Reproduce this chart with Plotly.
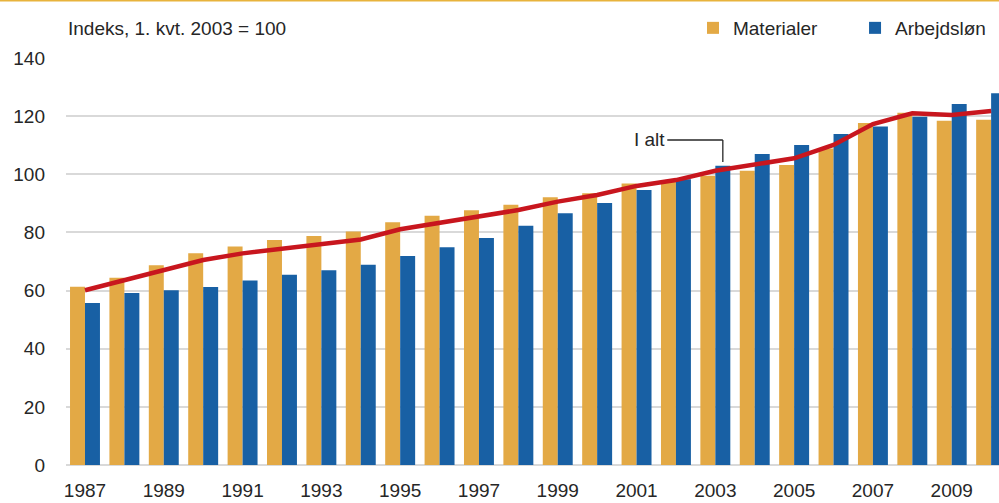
import plotly.graph_objects as go

years = list(range(1987, 2011))
materialer = [61.3, 64.4, 68.7, 72.8, 75.2, 77.4, 78.8, 80.3, 83.5, 85.7, 87.6, 89.5,
              92.1, 93.5, 96.8, 97.4, 99.5, 101.2, 103.2, 108.9, 117.6, 121.2, 118.4, 118.8]
arbejdslon = [55.7, 59.2, 60.1, 61.2, 63.5, 65.4, 67.0, 68.9, 71.9, 74.9, 78.1, 82.3,
              86.6, 90.1, 94.6, 98.3, 102.9, 107.0, 110.1, 113.9, 116.4, 119.8, 124.2, 127.9]
i_alt = [60.1, 63.6, 67.3, 70.5, 72.8, 74.5, 75.9, 77.6, 81.1, 83.4, 85.4, 87.7,
         90.6, 92.9, 96.0, 98.0, 101.2, 103.2, 105.5, 110.1, 117.3, 121.0, 120.4, 121.8]
x_ticks = list(range(1987, 2010, 2))
y_ticks = [0, 20, 40, 60, 80, 100, 120, 140]

ORANGE = "#E3A945"
BLUE = "#1860A4"
RED = "#C8161E"
TXT = "#262626"
FONT = "Liberation Sans, Arial, sans-serif"

fig = go.Figure()
fig.add_trace(go.Bar(x=years, y=materialer, name="Materialer", legend="legend",
                     marker=dict(color=ORANGE, line=dict(width=0))))
fig.add_trace(go.Bar(x=years, y=arbejdslon, name="Arbejdsløn", legend="legend2",
                     marker=dict(color=BLUE, line=dict(width=0))))
fig.add_trace(go.Scatter(x=years, y=i_alt, name="I alt", mode="lines",
                         line=dict(color=RED, width=4.5), showlegend=False))

legend_common = dict(orientation="h", xanchor="left", y=1.0737, yanchor="middle",
                     font=dict(size=19, color=TXT), bgcolor="rgba(0,0,0,0)",
                     itemwidth=30)

fig.update_layout(
    width=999, height=503,
    margin=dict(l=66, r=0, t=58, b=38),
    paper_bgcolor="white", plot_bgcolor="white",
    barmode="group", bargap=0.24, bargroupgap=0,
    font=dict(family=FONT, size=19, color=TXT),
    showlegend=True,
    legend=dict(x=0.672, **legend_common),
    legend2=dict(x=0.8457, **legend_common),
    xaxis=dict(range=[1986.518, 2010.2], tickmode="array", tickvals=x_ticks,
               ticktext=[str(v) for v in x_ticks], showgrid=False, zeroline=False,
               showline=False, ticks="", ticklabelstandoff=12,
               tickfont=dict(size=19, color=TXT)),
    yaxis=dict(range=[0, 140], tickmode="array", tickvals=y_ticks,
               showgrid=True, gridcolor="#D9D9D9", gridwidth=2,
               zeroline=True, zerolinecolor="#D9D9D9", zerolinewidth=2,
               showline=False, ticks="", ticklabelstandoff=20,
               tickfont=dict(size=19, color=TXT)),
)

# unit label
fig.add_annotation(text="Indeks, 1. kvt. 2003 = 100", xref="paper", yref="paper",
                   x=0, y=1.0737, xanchor="left", yanchor="middle", showarrow=False,
                   font=dict(size=19, color=TXT))

# "I alt" label with leader line
fig.add_annotation(text="I alt", xref="x", yref="y", x=2001.78, y=111.8,
                   xanchor="right", yanchor="middle", showarrow=False,
                   font=dict(size=19, color=TXT))
fig.add_shape(type="line", xref="x", yref="y", x0=2001.78, x1=2003.19, y0=111.8, y1=111.8,
              line=dict(color=TXT, width=1.3))
fig.add_shape(type="line", xref="x", yref="y", x0=2003.19, x1=2003.19, y0=111.8, y1=104.2,
              line=dict(color=TXT, width=1.3))

# thin orange rule at top of the figure
fig.add_shape(type="line", xref="paper", yref="paper", x0=-0.08, x1=1.0,
              y0=1.1413, y1=1.1413, line=dict(color="#E8B33C", width=2))

fig.write_html("out.html", config={"displayModeBar": False},
               post_script="document.body.style.margin='0';document.body.style.overflow='hidden';")
